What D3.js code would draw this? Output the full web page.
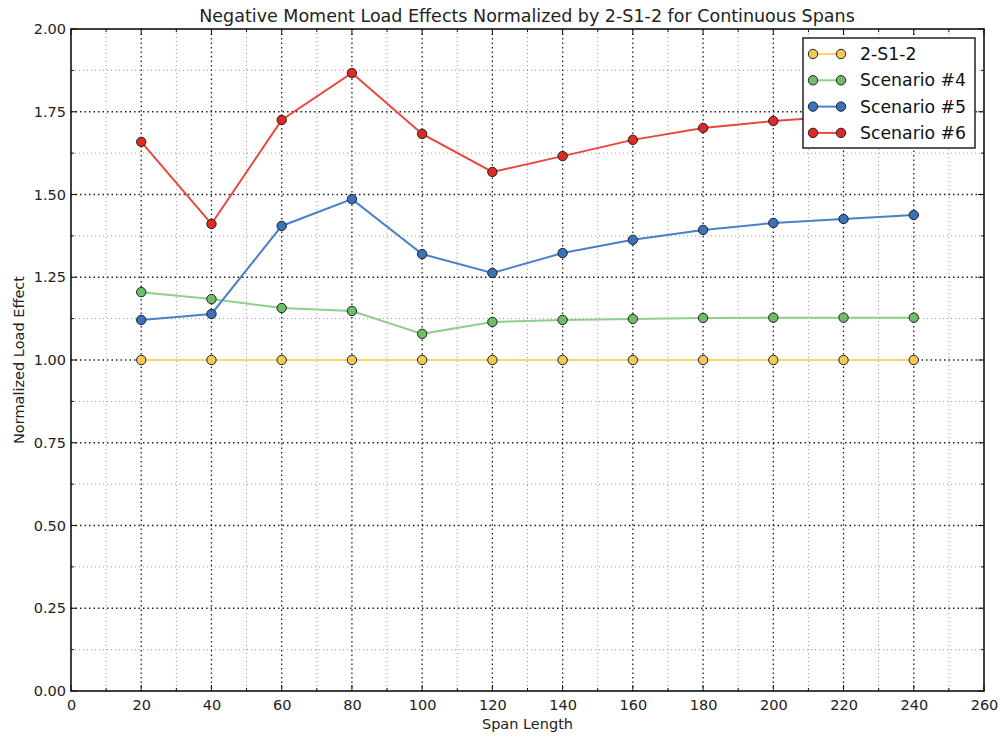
<!DOCTYPE html>
<html><head><meta charset="utf-8">
<script src="https://cdn.jsdelivr.net/npm/d3@7"></script>
<style>body{margin:0;background:#fff}svg{font-family:"DejaVu Sans",sans-serif}</style>
</head><body>
<svg id="c" width="1000" height="737"></svg>
<script>
const spans = [20,40,60,80,100,120,140,160,180,200,220,240];
const base = [1,1,1,1,1,1,1,1,1,1,1,1];
const scen4 = [1.205,1.184,1.157,1.148,1.079,1.115,1.121,1.124,1.127,1.128,1.128,1.128];
const scen5 = [1.121,1.139,1.405,1.486,1.320,1.263,1.323,1.363,1.393,1.414,1.426,1.438];
const scen6 = [1.659,1.411,1.725,1.867,1.683,1.568,1.616,1.665,1.701,1.722,1.737,1.748];
const seriesNames = ["2-S1-2","Scenario #4","Scenario #5","Scenario #6"];
const xTicks = [0,20,40,60,80,100,120,140,160,180,200,220,240,260];
const yTicks = [0,0.25,0.5,0.75,1.0,1.25,1.5,1.75,2.0];

const lineColors = ["#fbd56e","#8fd08a","#4a80c8","#e8473f"];
const dotColors = ["#f5c856","#6dbd69","#3a72bc","#dd2a24"];
const allSeries = [base,scen4,scen5,scen6];

const svg = d3.select("#c");
const L=71,R=984,T=29,B=691;
const x = d3.scaleLinear().domain([0,260]).range([L,R]);
const y = d3.scaleLinear().domain([0,2]).range([B,T]);

// minor grid
const xMinor = d3.range(10,260,20);
const yMinor = d3.range(0.125,2,0.25);
const g = svg.append("g");
g.selectAll(".xm").data(xMinor).enter().append("line")
 .attr("x1",d=>x(d)).attr("x2",d=>x(d)).attr("y1",T).attr("y2",B)
 .attr("stroke","#999").attr("stroke-width",1).attr("stroke-dasharray","1,3");
g.selectAll(".ym").data(yMinor).enter().append("line")
 .attr("y1",d=>y(d)).attr("y2",d=>y(d)).attr("x1",L).attr("x2",R)
 .attr("stroke","#999").attr("stroke-width",1).attr("stroke-dasharray","1,3");
// major grid
g.selectAll(".xM").data(xTicks.slice(1,-1)).enter().append("line")
 .attr("x1",d=>x(d)).attr("x2",d=>x(d)).attr("y1",T).attr("y2",B)
 .attr("stroke","#222").attr("stroke-width",1.3).attr("stroke-dasharray","1.5,3");
g.selectAll(".yM").data(yTicks.slice(1,-1)).enter().append("line")
 .attr("y1",d=>y(d)).attr("y2",d=>y(d)).attr("x1",L).attr("x2",R)
 .attr("stroke","#222").attr("stroke-width",1.3).attr("stroke-dasharray","1.5,3");

// axes
const xAxis = d3.axisBottom(x).tickValues(xTicks).tickSize(0).tickPadding(9).tickFormat(d3.format("d"));
const yAxis = d3.axisLeft(y).tickValues(yTicks).tickSize(0).tickPadding(5).tickFormat(d3.format(".2f"));
const gx = svg.append("g").attr("transform",`translate(0,${B})`).call(xAxis);
const gy = svg.append("g").attr("transform",`translate(${L},0)`).call(yAxis);
[gx,gy].forEach(a=>{a.select(".domain").remove();a.selectAll("text").attr("font-size",14.5).attr("fill","#222").attr("font-family","DejaVu Sans");});

// inward ticks on all sides
const tk = svg.append("g").attr("stroke","#111").attr("stroke-width",1);
xTicks.forEach(v=>{tk.append("line").attr("x1",x(v)).attr("x2",x(v)).attr("y1",B).attr("y2",B-6);
  tk.append("line").attr("x1",x(v)).attr("x2",x(v)).attr("y1",T).attr("y2",T+6);});
xMinor.forEach(v=>{tk.append("line").attr("x1",x(v)).attr("x2",x(v)).attr("y1",B).attr("y2",B-3);
  tk.append("line").attr("x1",x(v)).attr("x2",x(v)).attr("y1",T).attr("y2",T+3);});
yTicks.forEach(v=>{tk.append("line").attr("y1",y(v)).attr("y2",y(v)).attr("x1",L).attr("x2",L+6);
  tk.append("line").attr("y1",y(v)).attr("y2",y(v)).attr("x1",R).attr("x2",R-6);});
yMinor.forEach(v=>{tk.append("line").attr("y1",y(v)).attr("y2",y(v)).attr("x1",L).attr("x2",L+3);
  tk.append("line").attr("y1",y(v)).attr("y2",y(v)).attr("x1",R).attr("x2",R-3);});

// lines + dots
const line = d3.line().x((d,i)=>x(spans[i])).y(d=>y(d));
allSeries.forEach((s,k)=>{
  svg.append("path").datum(s).attr("d",line).attr("fill","none")
   .attr("stroke",lineColors[k]).attr("stroke-width",2);
});
allSeries.forEach((s,k)=>{
  svg.append("g").selectAll("circle").data(s).enter().append("circle")
   .attr("cx",(d,i)=>x(spans[i])).attr("cy",d=>y(d)).attr("r",4.7)
   .attr("fill",dotColors[k]).attr("stroke","#222").attr("stroke-width",1);
});

// frame
svg.append("rect").attr("x",L).attr("y",T).attr("width",R-L).attr("height",B-T)
 .attr("fill","none").attr("stroke","#111").attr("stroke-width",1.6);

// legend
const lg = svg.append("g").attr("transform","translate(803,38)");
lg.append("rect").attr("width",172).attr("height",110).attr("fill","#fff").attr("stroke","#222").attr("stroke-width",1.5);
seriesNames.forEach((n,k)=>{
  const yy = 16+k*26.3;
  lg.append("line").attr("x1",10).attr("x2",38).attr("y1",yy).attr("y2",yy).attr("stroke",lineColors[k]).attr("stroke-width",2);
  [10,38].forEach(cx=>lg.append("circle").attr("cx",cx).attr("cy",yy).attr("r",4.7).attr("fill",dotColors[k]).attr("stroke","#222"));
  lg.append("text").attr("x",57).attr("y",yy+6).attr("font-size",17.3).attr("fill","#111").text(n);
});

// titles
svg.append("text").attr("x",527).attr("y",22).attr("text-anchor","middle").attr("font-size",17.5).attr("fill","#222")
 .text("Negative Moment Load Effects Normalized by 2-S1-2 for Continuous Spans");
svg.append("text").attr("x",(L+R)/2).attr("y",729).attr("text-anchor","middle").attr("font-size",14.5).attr("fill","#222").text("Span Length");
svg.append("text").attr("transform",`translate(24,${(T+B)/2}) rotate(-90)`).attr("text-anchor","middle").attr("font-size",14.5).attr("fill","#222").text("Normalized Load Effect");
</script>
</body></html>
